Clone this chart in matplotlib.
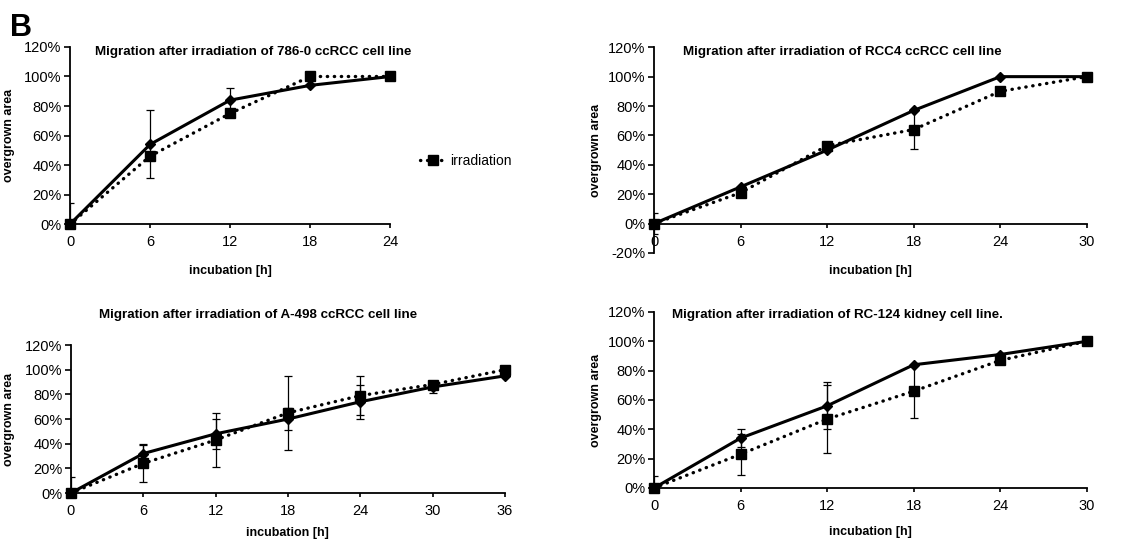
import numpy as np
import matplotlib.pyplot as plt
from matplotlib.ticker import FuncFormatter
from matplotlib.lines import Line2D

plt.rcParams['font.family'] = ['Liberation Sans', 'DejaVu Sans']

# 786-0
t_786 = [0, 6, 12, 18, 24]
ctrl_786 = [0, 54, 84, 94, 100]
ctrl_786_err = [14, 23, 8, 0, 0]
irr_786 = [0, 46, 75, 100, 100]
irr_786_err = [0, 0, 0, 0, 0]

# RCC4
t_rcc4 = [0, 6, 12, 18, 24, 30]
ctrl_rcc4 = [0, 25, 50, 77, 100, 100]
ctrl_rcc4_err = [7, 0, 0, 0, 0, 0]
irr_rcc4 = [0, 21, 53, 64, 90, 100]
irr_rcc4_err = [0, 0, 0, 13, 0, 0]

# A-498
t_a498 = [0, 6, 12, 18, 24, 30, 36]
ctrl_a498 = [0, 32, 48, 60, 74, 86, 95]
ctrl_a498_err = [13, 8, 12, 9, 14, 5, 0]
irr_a498 = [0, 24, 43, 65, 79, 88, 100]
irr_a498_err = [0, 15, 22, 30, 16, 0, 0]

# RC-124
t_rc124 = [0, 6, 12, 18, 24, 30]
ctrl_rc124 = [0, 34, 56, 84, 91, 100]
ctrl_rc124_err = [8, 6, 16, 0, 0, 0]
irr_rc124 = [0, 23, 47, 66, 87, 100]
irr_rc124_err = [0, 14, 23, 18, 0, 0]

fig = plt.figure(figsize=(11.48, 5.4), dpi=100)

dots = (0, (0.1, 2.0))


def panel(rect, t, ctrl, ctrl_err, irr, irr_err, title, tpos, ylim, xlab_y, ylab_x):
    ax = fig.add_axes(rect)
    ax.errorbar(t, ctrl, yerr=ctrl_err, fmt='none', ecolor='black', elinewidth=0.9,
                capsize=3, capthick=0.9, zorder=2)
    ax.errorbar(t, irr, yerr=irr_err, fmt='none', ecolor='black', elinewidth=0.9,
                capsize=3, capthick=0.9, zorder=2)
    ax.plot(t, irr, color='black', lw=2.4, linestyle=dots, dash_capstyle='round',
            marker='s', markersize=7.5, zorder=3, clip_on=False)
    ax.plot(t, ctrl, color='black', lw=2.2, linestyle='-', marker='D',
            markersize=5, zorder=4, clip_on=False)
    ax.set_xlim(0, t[-1])
    ax.set_ylim(*ylim)
    ax.set_xticks(t)
    ax.set_yticks(np.arange(ylim[0], ylim[1] + 1, 20))
    ax.yaxis.set_major_formatter(FuncFormatter(lambda v, p: f"{v:.0f}%"))
    for s in ['top', 'right']:
        ax.spines[s].set_visible(False)
    ax.spines['bottom'].set_position(('data', 0))
    for s in ['left', 'bottom']:
        ax.spines[s].set_linewidth(1.3)
    ax.tick_params(axis='y', direction='out', length=4, width=1.2, labelsize=10.5, pad=2)
    ax.tick_params(axis='x', direction='out', length=3, width=1.2, labelsize=10.5, pad=5)
    ax.set_xlabel('incubation [h]', fontweight='bold', fontsize=9)
    ax.set_ylabel('overgrown area', fontweight='bold', fontsize=9)
    ax.xaxis.set_label_coords(0.5, xlab_y)
    ax.yaxis.set_label_coords(ylab_x, 0.5)
    ax.text(tpos[0], tpos[1], title, transform=ax.transAxes, ha='center', va='center',
            fontweight='bold', fontsize=9.6)
    return ax


panel([0.061, 0.585, 0.279, 0.328], t_786, ctrl_786, ctrl_786_err, irr_786, irr_786_err,
      'Migration after irradiation of 786-0 ccRCC cell line', (0.572, 0.972), (0, 120), -0.232, -0.172)
panel([0.5697, 0.5315, 0.377, 0.381], t_rcc4, ctrl_rcc4, ctrl_rcc4_err, irr_rcc4, irr_rcc4_err,
      'Migration after irradiation of RCC4 ccRCC cell line', (0.434, 0.976), (-20, 120), -0.058, -0.12)
panel([0.0618, 0.087, 0.378, 0.274], t_a498, ctrl_a498, ctrl_a498_err, irr_a498, irr_a498_err,
      'Migration after irradiation of A-498 ccRCC cell line', (0.431, 1.203), (0, 120), -0.232, -0.129)
panel([0.5697, 0.0963, 0.377, 0.326], t_rc124, ctrl_rc124, ctrl_rc124_err, irr_rc124, irr_rc124_err,
      'Migration after irradiation of RC-124 kidney cell line.', (0.423, 0.983), (0, 120), -0.215, -0.12)

handle = Line2D([], [], color='black', lw=2.4, linestyle=dots, dash_capstyle='round',
                marker='s', markersize=7.5)
fig.legend([handle], ['irradiation'], loc='center left', bbox_to_anchor=(0.355, 0.702),
           frameon=False, fontsize=10, handlelength=1.9, handletextpad=0.3)

fig.text(0.009, 0.975, 'B', fontsize=22, fontweight='bold', va='top', ha='left')

fig.savefig('out.png', dpi=100)
